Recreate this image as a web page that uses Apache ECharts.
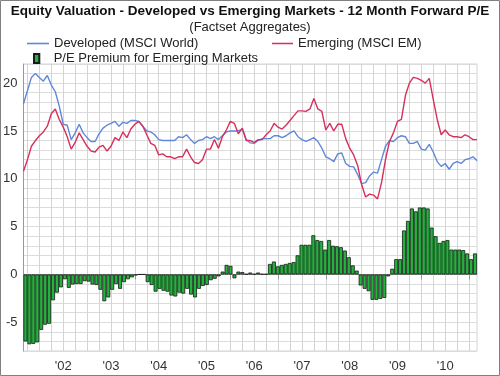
<!DOCTYPE html>
<html>
<head>
<meta charset="utf-8">
<script src="https://cdn.jsdelivr.net/npm/echarts@6/dist/echarts.min.js"></script>
<style>
  html, body { margin: 0; padding: 0; background: #fff; }
  #chart { width: 500px; height: 376px; }
</style>
</head>
<body>
<div id="chart"></div>
<script>
// monthly, Sep 2001 - Mar 2011
const months = [];
for (let y = 2001, m = 9; months.length < 115; m++) {
  if (m > 12) { m = 1; y++; }
  months.push(y + '-' + String(m).padStart(2, '0'));
}

const developed = [
  17.85, 19.2, 20.6, 21.0, 20.6, 20.2, 20.8, 19.8, 19.1, 17.6,
  15.7, 15.6, 14.1, 14.8, 15.7, 14.8, 14.3, 13.9, 13.9, 14.7,
  15.3, 15.6, 15.8, 16.0, 15.5, 15.9, 15.8, 16.1, 16.1, 16.0,
  15.5, 15.0, 14.9, 14.6, 14.1, 14.0, 14.0, 14.0, 14.0, 14.4,
  14.3, 14.6, 14.1, 13.7, 14.0, 14.1, 14.4, 14.2, 14.4, 14.1,
  14.5, 14.9, 15.0, 15.0, 15.0, 15.2, 14.1, 13.75, 13.7, 14.0,
  14.2, 14.2, 14.2, 14.5, 14.5, 14.3, 14.5, 14.8, 15.0, 14.4,
  14.1, 13.9, 14.1, 14.3, 13.9, 13.2, 12.3, 12.1, 11.8, 12.6,
  12.7, 11.6, 11.3, 11.25, 10.45, 9.5, 9.6, 10.3, 10.7, 10.6,
  12.0, 13.4, 14.0, 13.9, 14.3, 14.5, 14.4, 13.7, 13.7, 13.9,
  13.1, 13.0, 13.6, 12.8, 11.8, 11.3, 11.6, 11.0, 11.6, 11.8,
  11.6, 12.0, 12.1, 12.3, 11.9
];

const emerging = [
  10.8, 12.0, 13.4, 14.0, 14.5, 14.9, 15.5, 16.8, 17.3, 16.2,
  15.4, 14.4, 13.1, 13.8, 14.8, 14.1, 13.4, 12.9, 12.8, 13.3,
  13.5, 12.9, 13.4, 14.3, 14.0, 14.9, 14.3, 15.2, 15.7, 16.0,
  15.5, 14.6, 13.7, 13.5, 12.5, 12.6, 12.3, 12.3, 12.1, 12.3,
  12.3, 13.1, 12.3, 11.7, 11.6, 12.0, 13.1, 13.1, 14.1, 13.2,
  14.4, 15.1, 16.0, 15.8, 14.7, 15.3, 14.0, 14.0, 13.8, 14.1,
  14.1, 14.6, 15.0, 15.8, 15.4, 15.2, 15.6, 16.1, 16.6, 17.1,
  17.1, 17.05, 17.3, 18.4, 17.3, 17.05, 15.1, 15.8, 15.0, 15.7,
  15.7, 14.2, 13.2, 12.5, 11.4, 9.4, 8.1, 8.4, 8.3, 7.9,
  9.6, 12.0, 13.9, 14.8, 16.0, 16.2, 18.7, 20.0, 20.6, 20.5,
  20.3, 20.0, 20.5, 18.3, 16.2, 14.6, 15.1, 14.6, 14.4, 14.4,
  14.3, 14.6, 14.4, 14.1, 14.1
];

const premium = [
  -7.0, -7.3, -7.25, -7.1, -5.8, -5.25, -5.15, -2.7, -1.9, -1.35,
  -0.5, -1.4, -1.05, -1.0, -1.0, -0.7, -0.75, -1.05, -1.1, -1.6,
  -2.8, -2.4, -1.6, -1.0, -1.5, -0.8, -0.5, -0.3, -0.1, 0,
  0, -0.8, -1.1, -1.8, -1.5, -1.7, -1.8, -2.2, -2.3, -1.9,
  -2.0, -1.5, -2.1, -2.4, -1.5, -1.2, -1.1, -0.6, -0.45, -0.2,
  0.3, 1.0, 0.9, -0.4, 0.3, 0.25, 0.05, 0.2, 0.05, 0.2,
  0.05, 0.05, 1.1, 1.35, 0.85, 1.0, 1.1, 1.2, 1.3, 2.0,
  3.1, 3.1, 3.1, 4.1, 3.6, 3.5, 2.6, 3.6, 3.0, 2.95,
  2.85, 2.5, 1.8, 0.95, 0.4, -1.15, -1.5, -1.75, -2.65, -2.65,
  -2.55, -2.45, -0.2, 0.6, 1.6, 1.6, 4.6, 5.6, 6.9, 6.6,
  7.0, 7.0, 6.9, 4.9, 4.0, 3.3, 3.5, 3.6, 2.6, 2.6,
  2.6, 2.55, 2.2, 1.6, 2.2
];

const FONT = 'Liberation Sans, Arial, sans-serif';
const LINE_ICON = 'path://M0,0h22v1.6h-22z';
const chart = echarts.init(document.getElementById('chart'));

const option = {
  backgroundColor: '#fff',
  animation: false,
  textStyle: { fontFamily: FONT },
  title: [
    {
      text: 'Equity Valuation - Developed vs Emerging Markets - 12 Month Forward P/E',
      left: 'center', top: 4, padding: 0,
      textStyle: { fontSize: 13.5, fontWeight: 'bold', color: '#111', fontFamily: FONT }
    },
    {
      text: '(Factset Aggregates)',
      left: 'center', top: 21, padding: 0,
      textStyle: { fontSize: 13, fontWeight: 'normal', color: '#222', fontFamily: FONT }
    }
  ],
  legend: [
    {
      data: [{ name: 'Developed (MSCI World)', icon: LINE_ICON }],
      left: 27, top: 37, padding: 0, itemWidth: 22, itemHeight: 10,
      textStyle: { fontSize: 13, color: '#222' }
    },
    {
      data: [{ name: 'Emerging (MSCI EM)', icon: LINE_ICON }],
      left: 272, top: 37, padding: 0, itemWidth: 21, itemHeight: 10,
      textStyle: { fontSize: 13, color: '#222' }
    },
    {
      data: [{ name: 'P/E Premium for Emerging Markets', icon: 'path://M0,0h5v8.5h-5z' }],
      left: 33, top: 52, padding: 0, itemWidth: 22, itemHeight: 9,
      textStyle: { fontSize: 13, color: '#222', padding: [0, 0, 0, 1] }
    }
  ],
  graphic: [{
    type: 'rect',
    shape: { x: 0.5, y: 0.5, width: 499, height: 375 },
    style: { fill: 'none', stroke: '#808080', lineWidth: 1 },
    z: 100
  }],
  grid: {
    left: 23, right: 23, top: 64, bottom: 25,
    show: true, borderColor: '#d4d4d4', borderWidth: 1
  },
  xAxis: [
    {
      type: 'category',
      data: months,
      boundaryGap: false,
      axisLine: { lineStyle: { color: '#999' } },
      axisTick: {
        length: 5,
        interval: (i, v) => v.endsWith('-01'),
        lineStyle: { color: '#999' }
      },
      axisLabel: {
        interval: (i, v) => v.endsWith('-07'),
        formatter: v => "'" + v.slice(2, 4),
        color: '#333', fontSize: 13, margin: 9
      },
      splitLine: {
        show: true,
        interval: (i, v) => /-(01|04|07|10)$/.test(v),
        lineStyle: { color: '#d4d4d4' }
      }
    },
    {
      type: 'category',
      data: months,
      boundaryGap: true,
      position: 'bottom',
      axisLine: { show: false },
      axisTick: {
        inside: true, length: 5,
        interval: (i, v) => v.endsWith('-01'),
        lineStyle: { color: '#999' }
      },
      axisLabel: { show: false },
      splitLine: { show: false }
    }
  ],
  yAxis: {
    type: 'value',
    min: -8, max: 22, interval: 1,
    axisLine: { show: true, lineStyle: { color: '#999' } },
    axisTick: { show: false },
    axisLabel: {
      formatter: v => (v % 5 === 0 ? v : ''),
      color: '#333', fontSize: 13, margin: 6
    },
    splitLine: { lineStyle: { color: '#dcdcdc' } }
  },
  series: [
    {
      name: 'P/E Premium for Emerging Markets',
      type: 'bar',
      xAxisIndex: 1,
      barCategoryGap: '0%',
      data: premium,
      itemStyle: { color: '#22b33c', borderColor: '#1a1a1a', borderWidth: 0.8 },
      z: 2
    },
    {
      name: 'Developed (MSCI World)',
      type: 'line',
      xAxisIndex: 0,
      data: developed,
      symbol: 'none',
      lineStyle: { color: '#5f88d8', width: 1.4 },
      itemStyle: { color: '#5f88d8' },
      z: 3
    },
    {
      name: 'Emerging (MSCI EM)',
      type: 'line',
      xAxisIndex: 0,
      data: emerging,
      symbol: 'none',
      lineStyle: { color: '#d6305c', width: 1.4 },
      itemStyle: { color: '#d6305c' },
      z: 4
    }
  ]
};

chart.setOption(option);
window.addEventListener('resize', chart.resize);
</script>
</body>
</html>
